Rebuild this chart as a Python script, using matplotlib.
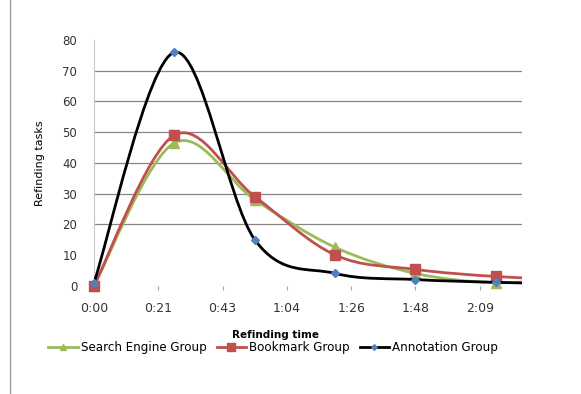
import matplotlib.pyplot as plt
from matplotlib.path import Path
from matplotlib.patches import PathPatch
from matplotlib.lines import Line2D

# Refinding time in seconds (last point lies past the axis end)
times = [0, 27, 54, 81, 108, 135, 162]
search_engine = [0, 46.5, 28, 12.5, 4, 1.0, 2.5]
bookmark = [0, 49, 29, 10, 5.3, 3, 2]
annotation = [1, 76, 15, 4, 2, 1.1, 0.5]

tick_pos = [0, 21.6, 43.2, 64.8, 86.4, 108, 129.6]
tick_labels = ['0:00', '0:21', '0:43', '1:04', '1:26', '1:48', '2:09']
grid_vals = [20, 30, 40, 50, 60, 70]

W, H = 581, 394


def smooth_path(xs, ys):
    # Excel-style smoothed line: cubic bezier segments through every point
    n = len(xs)
    verts = [(xs[0], ys[0])]
    codes = [Path.MOVETO]
    for i in range(n - 1):
        x0, y0 = xs[max(i - 1, 0)], ys[max(i - 1, 0)]
        x1, y1 = xs[i], ys[i]
        x2, y2 = xs[i + 1], ys[i + 1]
        x3, y3 = xs[min(i + 2, n - 1)], ys[min(i + 2, n - 1)]
        c1 = (x1 + (x2 - x0) / 6, y1 + (y2 - y0) / 6)
        c2 = (x2 - (x3 - x1) / 6, y2 - (y3 - y1) / 6)
        verts += [c1, c2, (x2, y2)]
        codes += [Path.CURVE4] * 3
    return Path(verts, codes)


fig = plt.figure(figsize=(W / 100, H / 100), dpi=100)
ax = fig.add_axes([94 / W, 1 - 285.7 / H, 428 / W, 245.7 / H])

for g in grid_vals:
    ax.axhline(g, color='#868686', lw=0.9, zorder=0)

series = [
    (search_engine, '#9BBB59', '^', 6.5, '#9BBB59', 'Search Engine Group'),
    (bookmark, '#C0504D', 's', 7.5, '#C0504D', 'Bookmark Group'),
    (annotation, 'black', 'D', 3.8, '#4F81BD', 'Annotation Group'),
]
handles = []
for k, (vals, col, mk, ms, mcol, name) in enumerate(series):
    ax.add_patch(PathPatch(smooth_path(times, vals), fill=False, edgecolor=col,
                           lw=2.0, zorder=2 + k * 2, capstyle='round'))
    ax.plot(times[:6], vals[:6], linestyle='none', marker=mk, ms=ms, color=mcol,
            mec=mcol, clip_on=False, zorder=3 + k * 2)
    handles.append(Line2D([], [], color=col, lw=2.0, marker=mk, ms=ms * 0.75,
                          mfc=mcol, mec=mcol, label=name))

ax.set_xlim(0, 143.8)
ax.set_ylim(0, 80)
ax.set_yticks(range(0, 81, 10))
ax.set_xticks(tick_pos)
ax.set_xticklabels(tick_labels)
ax.tick_params(axis='x', length=3, pad=9, labelsize=9, colors='#333333')
ax.tick_params(axis='x', color='#A0A0A0')
ax.tick_params(axis='y', length=0, pad=12, labelsize=8.5, colors='#333333')
for s in ['top', 'right', 'bottom']:
    ax.spines[s].set_visible(False)
ax.spines['left'].set_color('#C8C8C8')
ax.spines['left'].set_linewidth(0.8)

fig.text(40 / W, 1 - 163 / H, 'Refinding tasks', rotation=90, ha='center', va='center',
         fontsize=8)
fig.text(276 / W, 1 - 335 / H, 'Refinding time', ha='center', va='center',
         fontsize=7.5, fontweight='bold')

fig.legend(handles=handles, loc='center', bbox_to_anchor=(273 / W, 1 - 348 / H),
           ncol=3, frameon=False, fontsize=8.6, handlelength=2.5, handletextpad=0.2,
           columnspacing=0.85)

fig.add_artist(Line2D([10 / W, 10 / W], [0, 1], color='#A0A0A0', lw=1.0))

fig.savefig('out.png', dpi=100, facecolor='white')
